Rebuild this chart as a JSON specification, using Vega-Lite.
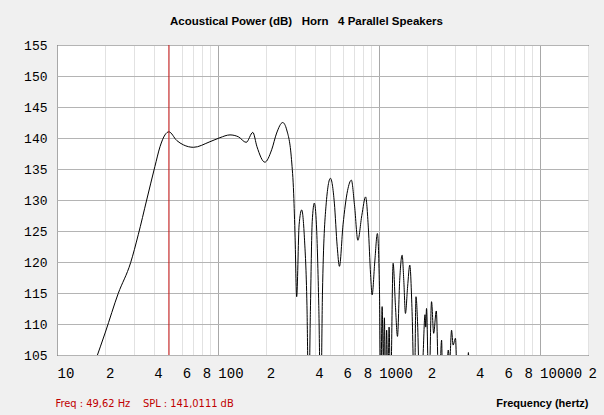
{
  "$schema": "https://vega.github.io/schema/vega-lite/v6.json",
  "autosize": "none",
  "width": 531,
  "height": 310,
  "padding": {"left": 57, "top": 45, "right": 16, "bottom": 60},
  "background": "#f0f0f0",
  "title": {
    "text": "Acoustical Power (dB)\u00a0\u00a0 Horn\u00a0\u00a0 4 Parallel Speakers",
    "font": "Liberation Sans",
    "fontSize": 11.5,
    "fontWeight": "bold",
    "color": "#000000",
    "anchor": "middle",
    "dx": -16,
    "offset": 1,
    "baseline": "bottom"
  },
  "datasets": {
    "curve": [
      {"f": 17.4, "db": 104.2}, {"f": 20, "db": 108.7}, {"f": 24, "db": 114.9}, {"f": 28.7, "db": 119.9},
      {"f": 32, "db": 124.4}, {"f": 36.1, "db": 130}, {"f": 40.6, "db": 135.4}, {"f": 43.7, "db": 138.6},
      {"f": 46.9, "db": 140.5}, {"f": 49.6, "db": 141.0}, {"f": 55.5, "db": 139.6}, {"f": 61, "db": 138.9},
      {"f": 70.5, "db": 138.5}, {"f": 89.3, "db": 139.4}, {"f": 103, "db": 140.05}, {"f": 119, "db": 140.5},
      {"f": 134, "db": 140.2}, {"f": 150, "db": 139.3}, {"f": 165, "db": 140.9}, {"f": 175, "db": 138.6},
      {"f": 196, "db": 136.1}, {"f": 216, "db": 138.1}, {"f": 232, "db": 140.8}, {"f": 253, "db": 142.5},
      {"f": 268, "db": 141.3}, {"f": 287, "db": 136.5}, {"f": 296, "db": 131}, {"f": 302, "db": 124},
      {"f": 309, "db": 114.4}, {"f": 320, "db": 126}, {"f": 332, "db": 128.4}, {"f": 345, "db": 124},
      {"f": 358, "db": 113}, {"f": 367, "db": 96}, {"f": 376, "db": 112}, {"f": 386, "db": 126.5},
      {"f": 398, "db": 129.5}, {"f": 410, "db": 126}, {"f": 424, "db": 113}, {"f": 436, "db": 96},
      {"f": 447, "db": 115}, {"f": 470, "db": 129}, {"f": 501, "db": 133.5}, {"f": 530, "db": 129.5},
      {"f": 552, "db": 122.5}, {"f": 570, "db": 119.3}, {"f": 600, "db": 126}, {"f": 640, "db": 131.5},
      {"f": 676, "db": 133.2}, {"f": 708, "db": 129}, {"f": 742, "db": 123.5}, {"f": 785, "db": 127.5},
      {"f": 829, "db": 130.5}, {"f": 862, "db": 125.5}, {"f": 890, "db": 118}, {"f": 910, "db": 114.7},
      {"f": 945, "db": 120}, {"f": 981, "db": 124.6}, {"f": 1010, "db": 116}, {"f": 1030, "db": 99},
      {"f": 1050, "db": 112.8}, {"f": 1068, "db": 104}, {"f": 1085, "db": 111}, {"f": 1100, "db": 99},
      {"f": 1120, "db": 109}, {"f": 1140, "db": 99}, {"f": 1160, "db": 109.5}, {"f": 1185, "db": 99},
      {"f": 1229, "db": 119.8}, {"f": 1270, "db": 113}, {"f": 1308, "db": 108}, {"f": 1350, "db": 117},
      {"f": 1398, "db": 121.1}, {"f": 1432, "db": 117}, {"f": 1466, "db": 111.7}, {"f": 1512, "db": 116},
      {"f": 1560, "db": 119.5}, {"f": 1612, "db": 112}, {"f": 1666, "db": 98}, {"f": 1705, "db": 114.4},
      {"f": 1745, "db": 110}, {"f": 1800, "db": 98}, {"f": 1880, "db": 104}, {"f": 1940, "db": 111.5},
      {"f": 1960, "db": 109.5}, {"f": 1982, "db": 112.5}, {"f": 2050, "db": 98}, {"f": 2130, "db": 113.6},
      {"f": 2196, "db": 108.5}, {"f": 2280, "db": 112.1}, {"f": 2370, "db": 98}, {"f": 2460, "db": 107.4},
      {"f": 2500, "db": 99}, {"f": 2620, "db": 99}, {"f": 2706, "db": 105.8}, {"f": 2760, "db": 104},
      {"f": 2837, "db": 109}, {"f": 2900, "db": 106.6}, {"f": 3000, "db": 107.7}, {"f": 3090, "db": 99},
      {"f": 3300, "db": 96}, {"f": 3550, "db": 100}, {"f": 3610, "db": 105.4}, {"f": 3670, "db": 100},
      {"f": 3750, "db": 97}
    ],
    "marker": [{"f": 49.62}]
  },
  "layer": [
    {
      "data": {"name": "curve"},
      "mark": {"type": "line", "color": "#000000", "strokeWidth": 1, "interpolate": "monotone", "clip": true},
      "encoding": {
        "x": {
          "field": "f", "type": "quantitative",
          "scale": {"type": "log", "domain": [10, 20000], "nice": false},
          "axis": {
            "values": [10,20,30,40,50,60,70,80,90,100,200,300,400,500,600,700,800,900,1000,2000,3000,4000,5000,6000,7000,8000,9000,10000,20000],
            "labelExpr": "indexof([10,100,1000,10000], datum.value) >= 0 ? format(datum.value, 'd') : (indexof([20,40,60,80,200,400,600,800,2000,4000,6000,8000,20000], datum.value) >= 0 ? substring(format(datum.value, 'd'), 0, 1) : '')",
            "labelOverlap": false,
            "labelFont": "Liberation Mono",
            "labelFontSize": 14,
            "labelColor": "#000000",
            "labelAlign": "left",
            "labelDx": -4,
            "labelBaseline": "middle",
            "labelPadding": 18,
            "labelFlush": false,
            "ticks": false,
            "domain": false,
            "grid": true,
            "gridColor": {"condition": {"test": "indexof([10,100,1000,10000], datum.value) >= 0", "value": "#a8a8a8"}, "value": "#e2e2e2"},
            "gridWidth": 1,
            "title": "Frequency (hertz)",
            "titleFont": "Liberation Sans",
            "titleFontSize": 11,
            "titleFontWeight": "bold",
            "titleColor": "#000000",
            "titleAnchor": "end",
            "titleAlign": "right",
            "titleBaseline": "middle",
            "titleX": 531,
            "titleY": 48
          }
        },
        "y": {
          "field": "db", "type": "quantitative",
          "scale": {"domain": [105, 155], "nice": false, "zero": false},
          "axis": {
            "values": [105,110,115,120,125,130,135,140,145,150,155],
            "labelFont": "Liberation Mono",
            "labelFontSize": 13,
            "labelColor": "#000000",
            "labelPadding": 10,
            "labelFlush": false,
            "ticks": false,
            "domain": false,
            "grid": true,
            "gridColor": "#b4b4b4",
            "title": "Freq : 49,62 Hz\u00a0\u00a0\u00a0 SPL : 141,0111 dB",
            "titleAngle": 0,
            "titleFont": "Liberation Sans Narrow, DejaVu Sans Condensed, Liberation Sans",
            "titleFontSize": 11,
            "titleFontWeight": "normal",
            "titleColor": "#c00000",
            "titleAlign": "left",
            "titleBaseline": "middle",
            "titleX": -2,
            "titleY": 358
          }
        }
      }
    },
    {
      "data": {"name": "marker"},
      "mark": {"type": "rule", "color": "#c81414", "strokeWidth": 1},
      "encoding": {
        "x": {"field": "f", "type": "quantitative"}
      }
    }
  ],
  "config": {
    "view": {"fill": "#ffffff", "stroke": "#000000", "strokeWidth": 1}
  }
}
